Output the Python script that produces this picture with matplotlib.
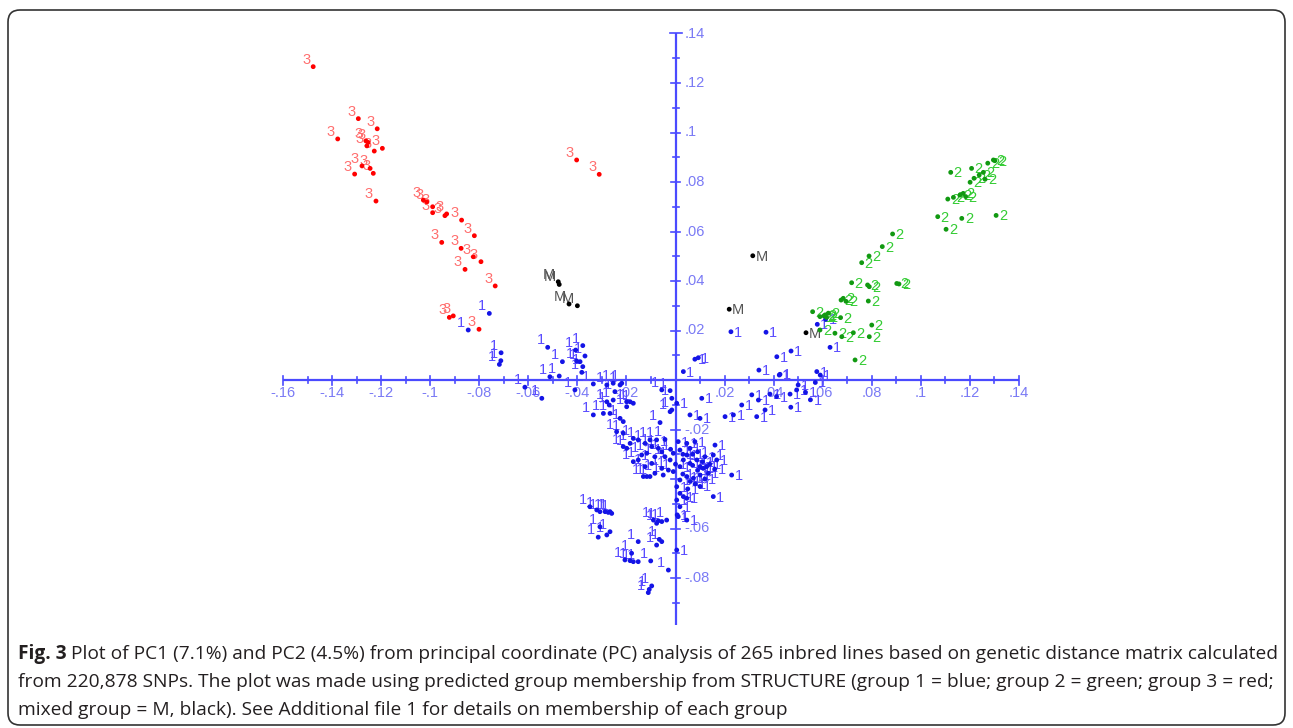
import matplotlib
matplotlib.use("Agg")
import matplotlib.pyplot as plt
from matplotlib.patches import FancyBboxPatch

# ---------------- data (PC1, PC2) ----------------
g3_x = [-0.1477, -0.1293, -0.1216, -0.1377, -0.1262, -0.1253, -0.1258, -0.1195, -0.1228,
        -0.1278, -0.1245, -0.1232, -0.1308, -0.1221, -0.1028, -0.1014, -0.0990, -0.0990,
        -0.0940, -0.0933, -0.0872, -0.0820, -0.0953, -0.0874, -0.0824, -0.0793, -0.0858,
        -0.0735, -0.0922, -0.0906, -0.0801, -0.0403, -0.0311]
g3_y = [0.1266, 0.1056, 0.1015, 0.0974, 0.0966, 0.0960, 0.0946, 0.0936, 0.0925,
        0.0865, 0.0855, 0.0835, 0.0832, 0.0723, 0.0727, 0.0720, 0.0700, 0.0676,
        0.0664, 0.0671, 0.0646, 0.0583, 0.0556, 0.0532, 0.0498, 0.0478, 0.0447,
        0.0380, 0.0253, 0.0259, 0.0205, 0.0889, 0.0831]

gm_x = [-0.0478, -0.0474, -0.0434, -0.0400, 0.0315, 0.0219, 0.0532]
gm_y = [0.0397, 0.0386, 0.0307, 0.0300, 0.0502, 0.0286, 0.0191]

g2_x = [0.1122, 0.1207, 0.1273, 0.1296, 0.1302, 0.1255, 0.1238, 0.1217, 0.1201, 0.1262,
        0.1110, 0.1133, 0.1160, 0.1173, 0.1183, 0.1069, 0.1167, 0.1307, 0.1103, 0.0885,
        0.0843, 0.0789, 0.0759, 0.0718, 0.0783, 0.0790, 0.0902, 0.0911, 0.0675, 0.0684,
        0.0695, 0.0786, 0.0589, 0.0610, 0.0623, 0.0673, 0.0589, 0.0650, 0.0678, 0.0725,
        0.0800, 0.0790, 0.0732, 0.0559, 0.0605, 0.0616]
g2_y = [0.0839, 0.0855, 0.0876, 0.0889, 0.0886, 0.0839, 0.0828, 0.0815, 0.0799, 0.0811,
        0.0731, 0.0738, 0.0747, 0.0754, 0.0741, 0.0660, 0.0653, 0.0665, 0.0609, 0.0590,
        0.0539, 0.0501, 0.0474, 0.0393, 0.0384, 0.0377, 0.0390, 0.0388, 0.0323, 0.0330,
        0.0318, 0.0319, 0.0256, 0.0263, 0.0270, 0.0252, 0.0202, 0.0189, 0.0175, 0.0191,
        0.0222, 0.0175, 0.0081, 0.0276, 0.0259, 0.0253]

g1_x = [-0.0759, -0.0845, -0.0711, -0.0712, -0.0718, -0.0521, -0.0461, -0.0512, -0.0474,
        -0.0378, -0.0407, -0.0369, -0.0403, -0.0389, -0.0378, -0.0382,
        0.0226, 0.0369, 0.0079, 0.0093, 0.0032, 0.0340, 0.0413, 0.0471, 0.0426, 0.0576,
        0.0578, 0.0630, 0.0612,
        -0.0614, -0.0545, -0.0410, -0.0335, -0.0280, -0.0254, -0.0226, -0.0219, -0.0247,
        -0.0199, -0.0172, -0.0185, -0.0280, -0.0254,
        -0.0199, -0.0270, -0.0294, -0.0335, -0.0267, -0.0226, -0.0213, -0.0056, -0.0022,
        -0.0015, -0.0015, -0.0022, 0.0005, -0.0063, -0.0240, -0.0213, -0.0172, -0.0152,
        -0.0185, -0.0213, -0.0199, -0.0124, -0.0104, -0.0077, -0.0043, -0.0097, -0.0070,
        -0.0056, -0.0117, -0.0138, -0.0084, -0.0043, -0.0022, -0.0009, 0.0011, 0.0018,
        0.0046, 0.0079, 0.0059, 0.0046, 0.0032, 0.0018, 0.0059, 0.0087, 0.0100, 0.0113,
        0.0127, 0.0134, 0.0100, 0.0073, 0.0046, 0.0018, 0.0005, 0.0018, 0.0032, 0.0005,
        0.0046, 0.0018, 0.0161, 0.0154, 0.0168, 0.0229, 0.0154, -0.0104, -0.0117, -0.0131,
        -0.0084, -0.0050, -0.0029, -0.0009, -0.0056, -0.0097, -0.0124, -0.0152, -0.0172,
        0.0070, 0.0090, 0.0110, 0.0060, 0.0080, 0.0120, 0.0030, 0.0050, 0.0100, 0.0140,
        0.0160, 0.0030, 0.0070, -0.0020, 0.0000, 0.0090, 0.0120,
        -0.0349, -0.0321, -0.0308, -0.0287, -0.0267, -0.0274, -0.0260, 0.0011,
        0.0107, 0.0059, 0.0100, 0.0202, 0.0236, 0.0270, 0.0311, 0.0338, 0.0331, 0.0365,
        0.0412, 0.0423, 0.0385, 0.0467, 0.0494, 0.0500, 0.0530, 0.0550, 0.0470, 0.0570,
        0.0590,
        -0.0308, -0.0280, -0.0267, -0.0315, -0.0152, -0.0066, -0.0056, -0.0077, -0.0090,
        -0.0070, -0.0056, -0.0077, -0.0036, 0.0007, 0.0046, -0.0179, -0.0185, -0.0172,
        -0.0152, -0.0206, -0.0101, -0.0029, -0.0097, -0.0107, -0.0111, 0.0005]
g1_y = [0.0269, 0.0202, 0.0110, 0.0078, 0.0063, 0.0132, 0.0074, 0.0013, 0.0016,
        0.0139, 0.0121, 0.0097, 0.0077, 0.0074, 0.0054, 0.0031,
        0.0195, 0.0193, 0.0084, 0.0090, 0.0034, 0.0040, 0.0094, 0.0117, 0.0023, 0.0034,
        0.0225, 0.0132, 0.0245,
        -0.0029, -0.0074, -0.0040, -0.0016, -0.0020, -0.0013, -0.0020, -0.0013, -0.0047,
        -0.0088, -0.0094, -0.0088, -0.0088, -0.0081,
        -0.0108, -0.0101, -0.0135, -0.0141, -0.0135, -0.0155, -0.0168, -0.0040, -0.0043,
        -0.0074, -0.0121, -0.0128, -0.0094, -0.0172, -0.0209, -0.0215, -0.0236, -0.0242,
        -0.0256, -0.0269, -0.0276, -0.0256, -0.0242, -0.0242, -0.0240, -0.0269, -0.0276,
        -0.0290, -0.0296, -0.0303, -0.0310, -0.0310, -0.0323, -0.0296, -0.0249, -0.0283,
        -0.0256, -0.0249, -0.0276, -0.0303, -0.0323, -0.0350, -0.0337, -0.0323, -0.0350, -0.0357,
        -0.0350, -0.0377, -0.0384, -0.0397, -0.0390, -0.0404, -0.0431, -0.0458, -0.0471, -0.0485,
        -0.0478, -0.0512, -0.0263, -0.0303, -0.0323, -0.0384, -0.0471, -0.0390, -0.0390, -0.0390,
        -0.0377, -0.0384, -0.0364, -0.0370, -0.0357, -0.0337, -0.0350, -0.0323, -0.0330,
        -0.0345, -0.0365, -0.0330, -0.0410, -0.0420, -0.0400, -0.0380, -0.0440, -0.0430, -0.0340,
        -0.0360, -0.0300, -0.0300, -0.0280, -0.0340, -0.0290, -0.0310,
        -0.0512, -0.0525, -0.0532, -0.0532, -0.0532, -0.0535, -0.0539, -0.0552,
        -0.0074, -0.0141, -0.0155, -0.0148, -0.0141, -0.0101, -0.0060, -0.0081, -0.0148, -0.0121,
        -0.0067, 0.0020, -0.0057, -0.0057, -0.0040, -0.0020, -0.0050, -0.0080, -0.0110, -0.0010,
        0.0020,
        -0.0593, -0.0626, -0.0613, -0.0635, -0.0653, -0.0644, -0.0653, -0.0667, -0.0566,
        -0.0569, -0.0572, -0.0579, -0.0566, -0.0545, -0.0566, -0.0700, -0.0730, -0.0734,
        -0.0734, -0.0727, -0.0731, -0.0768, -0.0832, -0.0846, -0.0859, -0.0687]

groups = [
    ("1", g1_x, g1_y, "#1414e6", "#5a4cff"),
    ("2", g2_x, g2_y, "#119911", "#33cc33"),
    ("3", g3_x, g3_y, "#ff0000", "#ff6e6e"),
    ("M", gm_x, gm_y, "#000000", "#555555"),
]

x_ticks = [-0.16, -0.14, -0.12, -0.10, -0.08, -0.06, -0.04, -0.02, 0.02, 0.04, 0.06, 0.08, 0.10, 0.12, 0.14]
x_labels = ["-.16", "-.14", "-.12", "-.1", "-.08", "-.06", "-.04", "-.02", ".02", ".04", ".06", ".08", ".1", ".12", ".14"]
y_ticks = [0.14, 0.12, 0.10, 0.08, 0.06, 0.04, 0.02, -0.02, -0.04, -0.06, -0.08]
y_labels = [".14", ".12", ".1", ".08", ".06", ".04", ".02", "-.02", "-.04", "-.06", "-.08"]

caption_bold = "Fig. 3"
caption_lines = [
    "Plot of PC1 (7.1%) and PC2 (4.5%) from principal coordinate (PC) analysis of 265 inbred lines based on genetic distance matrix calculated",
    "from 220,878 SNPs. The plot was made using predicted group membership from STRUCTURE (group 1 = blue; group 2 = green; group 3 = red;",
    "mixed group = M, black). See Additional file 1 for details on membership of each group",
]

# ---------------- figure ----------------
W, H = 1293, 728
fig = plt.figure(figsize=(W / 100, H / 100), dpi=100)
ax = fig.add_axes([0, 0, 1, 1])
x0px, y0px = 675.5, 380.0
sx, sy = 2453.0, 2475.0
ax.set_xlim(-x0px / sx, (W - x0px) / sx)
ax.set_ylim((y0px - H) / sy, y0px / sy)
ax.axis("off")

axc = "#4a4aff"
labc = "#7a7af5"
lw = 1.6
ax.plot([-0.16, 0.14], [0, 0], color=axc, lw=lw, solid_capstyle="butt", zorder=1)
ax.plot([0, 0], [-0.099, 0.14], color=axc, lw=lw, solid_capstyle="butt", zorder=1)
for i in range(-16, 15):
    t = i / 100.0
    if i == 0:
        continue
    L = 4.5 if i % 2 == 0 else 3.0
    ax.plot([t, t], [-L / sy, L / sy], color=axc, lw=1.2, zorder=1)
for i in range(-9, 15):
    t = i / 100.0
    if i == 0:
        continue
    L = 4.5 if i % 2 == 0 else 3.0
    if i == 14:
        L = 6
    ax.plot([-L / sx, L / sx], [t, t], color=axc, lw=1.2, zorder=1)

for t, s in zip(x_ticks, x_labels):
    ax.text(t, -13 / sy, s, ha="center", va="center", color=labc,
            fontsize=10.5, family="Liberation Sans", zorder=1)
for t, s in zip(y_ticks, y_labels):
    ax.text(9 / sx, t, s, ha="left", va="center", color=labc,
            fontsize=10.5, family="Liberation Sans", zorder=1)

for lab, xs, ys, dc, tc in groups:
    for x, y in zip(xs, ys):
        if x < 0:
            ax.annotate(lab, (x, y), xytext=(-3, 3), textcoords="offset pixels",
                        ha="right", va="baseline", color=tc, fontsize=10.5,
                        family="Liberation Sans", zorder=2)
        else:
            ax.annotate(lab, (x, y), xytext=(3, -5), textcoords="offset pixels",
                        ha="left", va="baseline", color=tc, fontsize=10.5,
                        family="Liberation Sans", zorder=2)
    ax.scatter(xs, ys, s=12, color=dc, edgecolors="none", zorder=3)

box = FancyBboxPatch((8, 3), 1277, 715, boxstyle="round,pad=0,rounding_size=12",
                     transform=None, fill=False, ec="#333333", lw=1.2)
fig.patches.append(box)

capc = "#231f20"
cfam = "Open Sans"
renderer = fig.canvas.get_renderer()
left = 18.0
target_right = 1270.0
baselines = [659, 687, 715]

def place(fs):
    tb = fig.text(left / W, 1 - baselines[0] / H, caption_bold, fontsize=fs, family=cfam,
                  weight="bold", color=capc, va="baseline", ha="left")
    bb = tb.get_window_extent(renderer)
    t1 = fig.text((bb.x1 + fs * 0.3) / W, 1 - baselines[0] / H, caption_lines[0], fontsize=fs,
                  family=cfam, color=capc, va="baseline", ha="left")
    return tb, t1

fs = 12.0
tb, t1 = place(fs)
right = t1.get_window_extent(renderer).x1
fs = fs * (target_right - left) / (right - left)
tb.remove(); t1.remove()
tb, t1 = place(fs)
for k in (1, 2):
    fig.text(left / W, 1 - baselines[k] / H, caption_lines[k], fontsize=fs, family=cfam,
             color=capc, va="baseline", ha="left")

fig.savefig("out.png", dpi=100)
